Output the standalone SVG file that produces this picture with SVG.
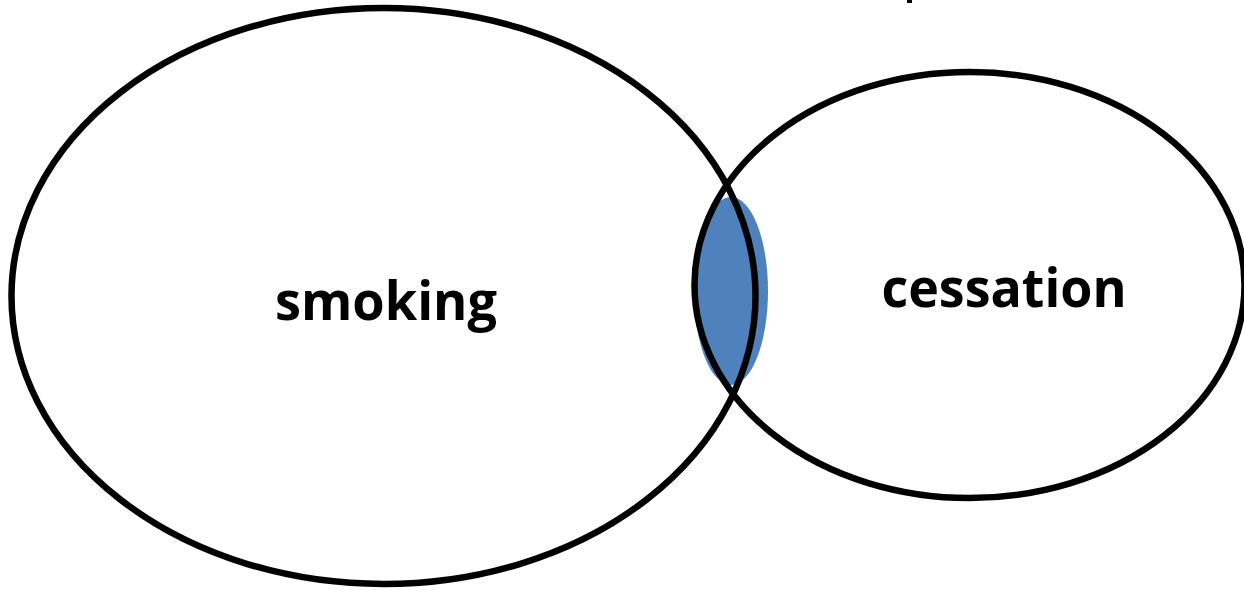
<svg xmlns="http://www.w3.org/2000/svg" width="1244" height="590" viewBox="0 0 1244 590">
<style>
.ring{fill:none;stroke:#000;stroke-width:6.5}
.lbl{font-family:"Open Sans","Liberation Sans",sans-serif;font-weight:bold;font-size:54px;fill:#000}
</style>
<rect width="1244" height="590" fill="#fff"/>
<g id="overlap"><ellipse cx="731" cy="291" rx="37" ry="94" fill="#4F81BD"/></g>
<g id="smoking"><ellipse class="ring" cx="383.5" cy="296" rx="372" ry="288"/><text class="lbl" x="386" y="320" text-anchor="middle" textLength="222" lengthAdjust="spacingAndGlyphs">smoking</text></g>
<g id="cessation"><ellipse class="ring" cx="969.5" cy="285" rx="275" ry="213"/><text class="lbl" x="1004" y="307" text-anchor="middle" textLength="245" lengthAdjust="spacingAndGlyphs">cessation</text></g>
<rect x="907" y="0" width="5" height="3" fill="#000"/>
<g id="connectors"/>
</svg>
